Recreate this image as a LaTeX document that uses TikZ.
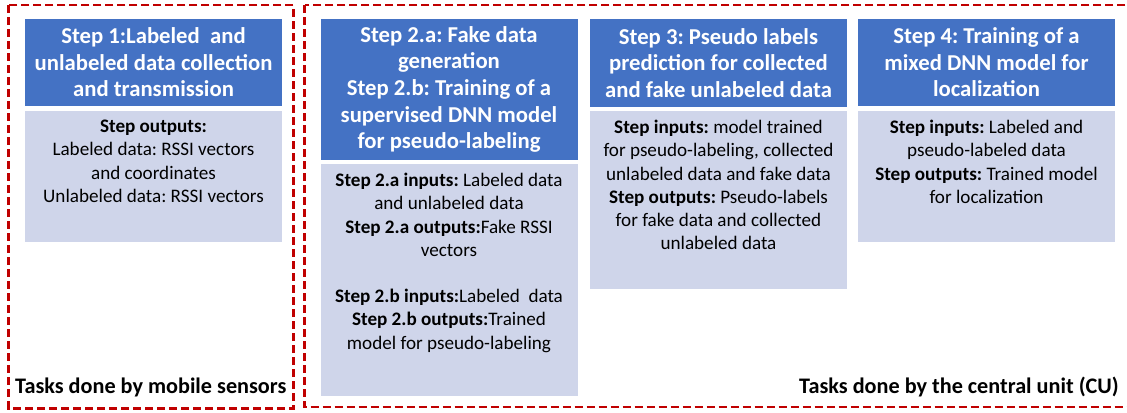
\documentclass[tikz,border=0pt]{standalone}
\usepackage{fontspec}
\setmainfont{Carlito}
\frenchspacing
\definecolor{hdr}{HTML}{4472C4}
\definecolor{bdy}{HTML}{CFD5EA}
\definecolor{dred}{HTML}{C00000}
\tikzset{
 hdrbox/.style={fill=hdr, draw=none, text=white, font=\bfseries\fontsize{22.8}{26.7}\selectfont, align=center, inner sep=0, minimum width=257bp},
 bdybox/.style={fill=bdy, draw=none, inner sep=0, minimum width=257bp, anchor=north},
 bdytxt/.style={font=\fontsize{19.2}{23.3}\selectfont, align=center, anchor=north, inner sep=0},
 grpbox/.style={draw=dred, line width=2.6bp, dash pattern=on 8bp off 4bp},
 grplbl/.style={font=\bfseries\fontsize{22.3}{24}\selectfont, inner sep=0},
}
\begin{document}
\begin{tikzpicture}[x=1bp,y=-1bp]
\useasboundingbox (0,0) rectangle (1127,412);
% group frames
\draw[grpbox] (8.5,5) rectangle (293.5,408.5);
\draw[grpbox] (304.5,5) rectangle (1135,407);
% step 1
\node[hdrbox, minimum height=87bp] (h1) at (153.5,62.5) {Step 1:Labeled\ \ and\\unlabeled data collection\\and transmission};
\node[bdybox, minimum height=131bp] (b1) at (153.5,111) {};
\node[bdytxt] (t1) at ([yshift=-9bp]b1.north) {\textbf{Step outputs:}\\Labeled data: RSSI vectors\\and coordinates\\Unlabeled data: RSSI vectors};
% step 2
\node[hdrbox, minimum height=141bp] (h2) at (449,89.5) {Step 2.a: Fake data\\generation\\Step 2.b: Training of a\\supervised DNN model\\for pseudo-labeling};
\node[bdybox, minimum height=232bp] (b2) at (449,164) {};
\node[bdytxt] (t2) at ([yshift=-9bp]b2.north) {\textbf{Step 2.a inputs:} Labeled data\\and unlabeled data\\\textbf{Step 2.a outputs:}Fake RSSI\\vectors\\[23.3bp]\textbf{Step 2.b inputs:}Labeled\ \ data\\\textbf{Step 2.b outputs:}Trained\\model for pseudo-labeling};
% step 3
\node[hdrbox, minimum height=88bp] (h3) at (718.5,63) {Step 3: Pseudo labels\\prediction for collected\\and fake unlabeled data};
\node[bdybox, minimum height=178bp] (b3) at (718.5,111) {};
\node[bdytxt] (t3) at ([yshift=-9bp]b3.north) {\textbf{Step inputs:} model trained\\for pseudo-labeling, collected\\unlabeled data and fake data\\\textbf{Step outputs:} Pseudo-labels\\for fake data and collected\\unlabeled data};
% step 4
\node[hdrbox, minimum height=87bp] (h4) at (986.5,62.5) {Step 4: Training of a\\mixed DNN model for\\localization};
\node[bdybox, minimum height=131bp] (b4) at (986.5,111) {};
\node[bdytxt] (t4) at ([yshift=-9bp]b4.north) {\textbf{Step inputs:} Labeled and\\pseudo-labeled data\\\textbf{Step outputs:} Trained model\\for localization};
% group labels
\node[grplbl, anchor=west] (l1) at (15,387) {Tasks done by mobile sensors};
\node[grplbl, anchor=east] (l2) at (1119,387) {Tasks done by the central unit (CU)};
\end{tikzpicture}
\end{document}
